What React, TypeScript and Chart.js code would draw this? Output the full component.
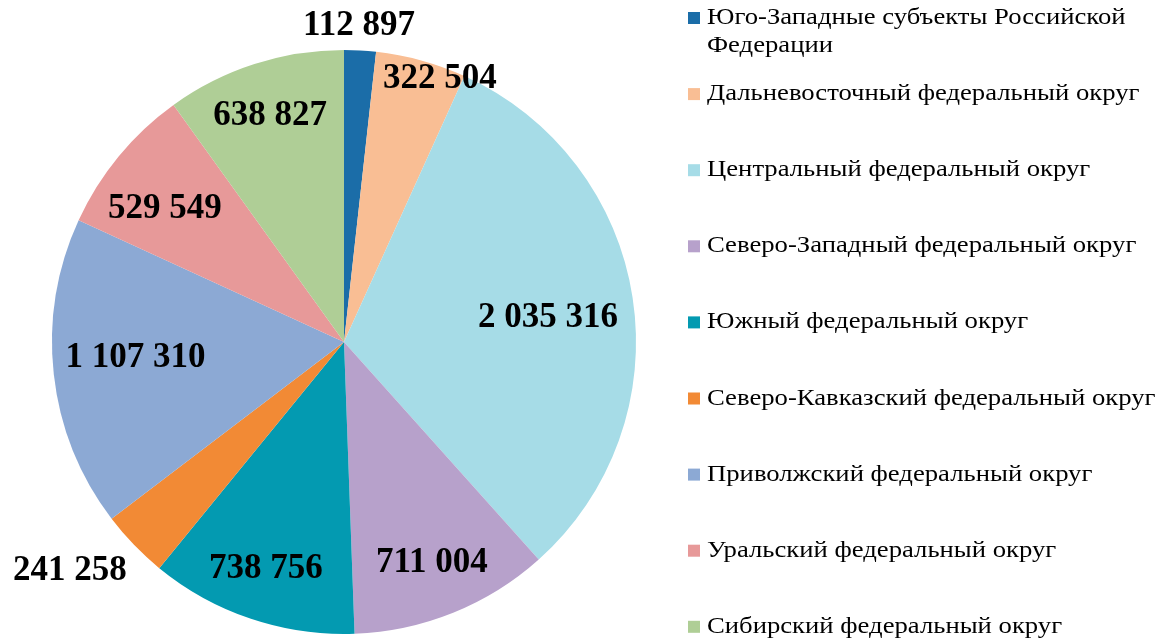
import React, { useEffect, useRef } from "react";
import { Chart, registerables } from "chart.js";

Chart.register(...registerables);

const categories: string[][] = [
  ["Юго-Западные субъекты Российской", "Федерации"],
  ["Дальневосточный федеральный округ"],
  ["Центральный федеральный округ"],
  ["Северо-Западный федеральный округ"],
  ["Южный федеральный округ"],
  ["Северо-Кавказский федеральный округ"],
  ["Приволжский федеральный округ"],
  ["Уральский федеральный округ"],
  ["Сибирский федеральный округ"],
];

const values: number[] = [112897, 322504, 2035316, 711004, 738756, 241258, 1107310, 529549, 638827];

const colors: string[] = [
  "#1B6DA8",
  "#F9BE94",
  "#A6DCE7",
  "#B7A1CB",
  "#039AB1",
  "#F28A35",
  "#8CA9D4",
  "#E79999",
  "#AFCE96",
];

// label placement style: radius fraction and angle shift (degrees)
const labelRadius: number[] = [1.087, 0.962, 0.704, 0.811, 0.819, 1.221, 0.716, 0.766, 0.818];
const labelShift: number[] = [-0.45, 4.65, 1.75, 0.15, 0.45, 4.25, 2.2, -2.66, -0.18];

const fmt = (v: number) => String(v).replace(/\B(?=(\d{3})+(?!\d))/g, " ");

const SERIF = '"Liberation Serif", "Times New Roman", serif';

const labelsPlugin = {
  id: "sliceLabels",
  afterDatasetsDraw(chart: any) {
    const ctx = chart.ctx;
    const meta = chart.getDatasetMeta(0);
    ctx.save();
    ctx.font = `bold 35px ${SERIF}`;
    ctx.fillStyle = "#000";
    ctx.textAlign = "center";
    ctx.textBaseline = "middle";
    meta.data.forEach((arc: any, i: number) => {
      const mid = (arc.startAngle + arc.endAngle) / 2 + (labelShift[i] * Math.PI) / 180;
      const r = arc.outerRadius * labelRadius[i];
      const x = arc.x + Math.cos(mid) * r;
      const y = arc.y + Math.sin(mid) * r;
      ctx.fillText(fmt(values[i]), x, y + 1);
    });
    ctx.restore();
  },
};

const legendPlugin = {
  id: "sideLegend",
  afterDraw(chart: any) {
    const ctx = chart.ctx;
    ctx.save();
    ctx.font = `23px ${SERIF}`;
    ctx.textAlign = "left";
    ctx.textBaseline = "middle";
    const x0 = 688;
    const tx = 707;
    const startY = 18;
    const step = 76.1;
    const sx = 1.16;
    categories.forEach((lines, i) => {
      const y = startY + i * step;
      ctx.fillStyle = colors[i];
      ctx.fillRect(x0, y - 6, 12, 12);
      ctx.fillStyle = "#000";
      lines.forEach((t, j) => {
        ctx.save();
        ctx.translate(tx, y + j * 28);
        ctx.scale(sx, 1);
        ctx.fillText(t, 0, 0);
        ctx.restore();
      });
    });
    ctx.restore();
  },
};

export default function App() {
  const ref = useRef<HTMLCanvasElement | null>(null);
  useEffect(() => {
    if (!ref.current) return;
    const chart = new Chart(ref.current, {
      type: "pie",
      data: {
        labels: categories.map((c) => c.join(" ")),
        datasets: [
          {
            data: values,
            backgroundColor: colors,
            borderWidth: 0,
          },
        ],
      },
      options: {
        animation: false,
        responsive: false,
        maintainAspectRatio: false,
        layout: { padding: { top: 50, bottom: 7, left: 52, right: 524 } },
        plugins: {
          legend: { display: false },
          tooltip: { enabled: false },
        },
      },
      plugins: [labelsPlugin, legendPlugin],
    });
    return () => chart.destroy();
  }, []);
  return (
    <div style={{ position: "absolute", left: 0, top: 0, width: 1160, height: 641, background: "#fff" }}>
      <canvas ref={ref} width={1160} height={641} style={{ width: 1160, height: 641 }} />
    </div>
  );
}
